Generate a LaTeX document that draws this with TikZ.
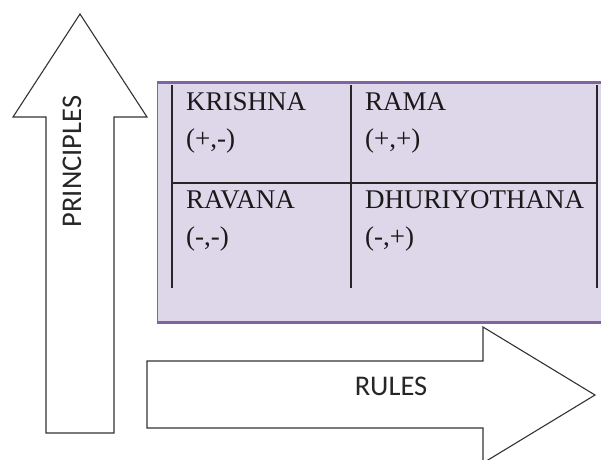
\documentclass[tikz,border=0pt]{standalone}
\usepackage{fontspec}
\setmainfont{Liberation Serif}
\newfontfamily\axisfont{Carlito}
\usepackage{tikz}
\usetikzlibrary{positioning}
\definecolor{quadpurple}{RGB}{128,100,162}
\definecolor{quadfill}{RGB}{222,215,233}
\tikzstyle{bigarrow} = [draw=black!80, fill=white, line width=1.1pt, line join=miter]
\tikzstyle{axislabel} = [inner sep=0pt, font=\axisfont\fontsize{28.5}{30}\selectfont, text=black!85]
\tikzstyle{cell} = [anchor=base west, inner sep=0pt, font=\fontsize{27}{30}\selectfont, text=black!90]
\tikzstyle{grid} = [line width=1.5pt, color=black!85]

\begin{document}
\begin{tikzpicture}[x=1pt,y=-1pt]
\useasboundingbox (0,0) rectangle (601,459);

% principles axis
\draw[bigarrow] (46,433) -- (46,117) -- (13,117) -- (80,14) -- (147,117) -- (114,117) -- (114,433) -- cycle;
\node[axislabel, rotate=90] (principles) at (72,161.5) {PRINCIPLES};

% rules axis
\draw[bigarrow] (147,361) -- (483,361) -- (483,327) -- (595,395) -- (483,463) -- (483,428) -- (147,428) -- cycle;
\node[axislabel] (rules) at (391,386.5) {RULES};

% quadrant panel
\fill[quadfill] (157,82) rectangle (601,322);
\draw[quadpurple, line width=1pt] (157,82) -- (157,322);
\draw[quadpurple, line width=3pt] (157,82) -- (601,82);
\draw[quadpurple, line width=3pt] (157,322) -- (601,322);

\coordinate (tl) at (172,85);
\coordinate (tm) at (351,85);
\coordinate (tr) at (597,85);
\coordinate (bl) at (172,288);
\coordinate (bm) at (351,288);
\coordinate (br) at (597,288);
\coordinate (ml) at (172,183);
\coordinate (mr) at (597,183);
\draw[grid] (tl) -- (bl);
\draw[grid] (tm) -- (bm);
\draw[grid] (tr) -- (br);
\draw[grid] (ml) -- (mr);

\node[cell] (krishna) at (186,110) {KRISHNA};
\node[cell] (krishnasign) at (186,147.5) {(+,-)};
\node[cell] (rama) at (365,110) {RAMA};
\node[cell] (ramasign) at (365,147.5) {(+,+)};
\node[cell] (ravana) at (186,208) {RAVANA};
\node[cell] (ravanasign) at (186,245.5) {(-,-)};
\node[cell] (dhuri) at (365,208) {DHURIYOTHANA};
\node[cell] (dhurisign) at (365,245.5) {(-,+)};
\end{tikzpicture}
\end{document}
